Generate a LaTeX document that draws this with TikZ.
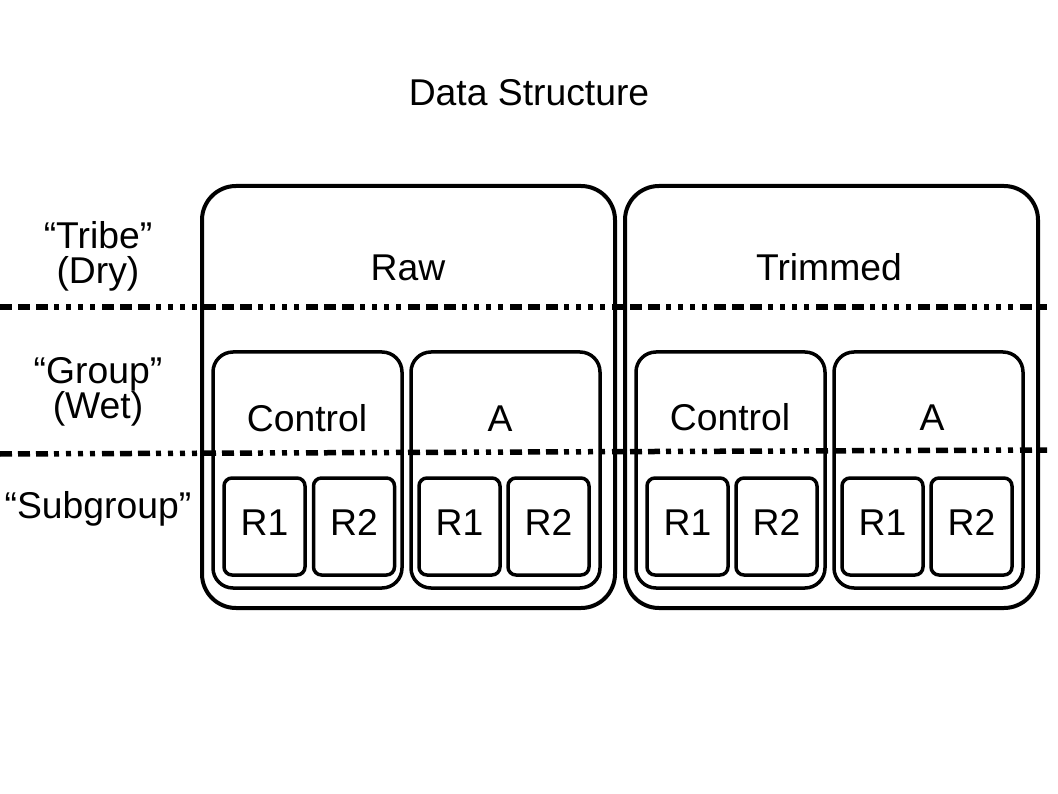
\documentclass[tikz,border=0pt]{standalone}
\usepackage{fontspec}
\setmainfont{Liberation Sans}
\begin{document}
\begin{tikzpicture}[x=1pt,y=-1pt,
  outerbox/.style={draw,line width=4pt,rounded corners=34pt,minimum width=413pt,minimum height=422pt,inner sep=0pt},
  groupbox/.style={draw,line width=3.5pt,rounded corners=20pt,minimum width=189pt,minimum height=236pt,inner sep=0pt},
  repbox/.style={draw,line width=3.5pt,rounded corners=8pt,minimum width=81pt,minimum height=97pt,inner sep=0pt},
  lbl/.style={font=\fontsize{37.3}{35}\selectfont,inner sep=0pt,anchor=base},
  levelline/.style={line width=5.5pt,dash pattern=on 12pt off 6pt on 12pt off 6pt on 12pt off 6pt on 5pt off 7pt on 5pt off 7pt on 5pt off 7pt on 5pt off 7pt}]
\useasboundingbox (0,0) rectangle (1058,794);
\node[lbl] (title) at (529,106) {Data Structure};
% outer boxes
\node[outerbox] (raw) at (408.5,397) {};
\node[outerbox] (trim) at (831.5,397) {};
\node[lbl] (rawl) at (408,281) {Raw};
\node[lbl] (triml) at (829,281) {Trimmed};
% group boxes
\node[groupbox] (g1) at (307.5,470) {};
\node[groupbox] (g2) at (505.5,470) {};
\node[groupbox] (g3) at (730.5,470) {};
\node[groupbox] (g4) at (928.5,470) {};
\node[lbl] (g1l) at (307,431) {Control};
\node[lbl] (g2l) at (500,431) {A};
\node[lbl] (g3l) at (730,430) {Control};
\node[lbl] (g4l) at (932,430) {A};
% replicate boxes
\node[repbox] (r11) at (264.5,526.5) {};
\node[repbox] (r12) at (354,526.5) {};
\node[repbox] (r21) at (459.5,526.5) {};
\node[repbox] (r22) at (548.5,526.5) {};
\node[repbox] (r31) at (687.5,526.5) {};
\node[repbox] (r32) at (776.5,526.5) {};
\node[repbox] (r41) at (882.5,526.5) {};
\node[repbox] (r42) at (971.5,526.5) {};
\foreach \n/\t in {r11/R1,r12/R2,r21/R1,r22/R2,r31/R1,r32/R2,r41/R1,r42/R2}
  \node[lbl] (\n l) at ([yshift=-9pt]\n.center) {\t};
% side labels
\node[lbl] (tribe) at (98,249) {“Tribe”};
\node[lbl] (dry) at (98,284) {(Dry)};
\node[lbl] (group) at (98,384) {“Group”};
\node[lbl] (wet) at (98,418) {(Wet)};
\node[lbl] (sub) at (98,518) {“Subgroup”};
% level lines
\coordinate (l1a) at (0,307);
\coordinate (l1b) at (1047,307);
\coordinate (l2a) at (0,454);
\coordinate (l2b) at (1047,450);
\draw[levelline] (l1a) -- (l1b);
\draw[levelline] (l2a) -- (l2b);
\end{tikzpicture}
\end{document}
